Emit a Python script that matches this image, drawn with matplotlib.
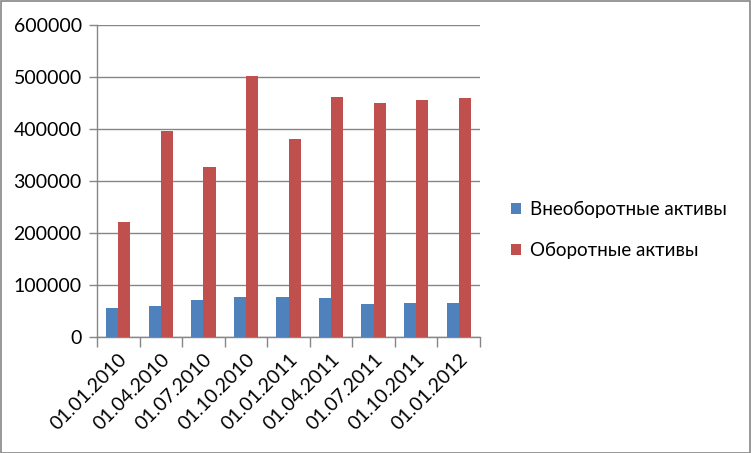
import matplotlib
matplotlib.use("Agg")
import matplotlib.pyplot as plt
from matplotlib.patches import Rectangle
import numpy as np

dates = ["01.01.2010", "01.04.2010", "01.07.2010", "01.10.2010", "01.01.2011",
         "01.04.2011", "01.07.2011", "01.10.2011", "01.01.2012"]
noncurrent = [56400, 60300, 71800, 77600, 77600, 75600, 64100, 66000, 66000]
current = [221800, 396800, 327600, 502600, 381400, 462200, 450600, 456400, 460300]
labels = ["Внеоборотные активы", "Оборотные активы"]

plt.rcParams['font.family'] = ['Lato', 'DejaVu Sans']

W, H = 751, 453
fig = plt.figure(figsize=(W / 100, H / 100), dpi=100)
ax = fig.add_axes([97 / W, 1 - 337 / H, (480 - 97) / W, (337 - 25) / H])

x = np.arange(len(dates))
bw = 1 / 3.5
ax.bar(x - bw / 2, noncurrent, bw, color="#4f81bd", label=labels[0], zorder=3)
ax.bar(x + bw / 2, current, bw, color="#c0504d", label=labels[1], zorder=3)

grid = "#868686"
ax.set_xlim(-0.5, len(dates) - 0.5)
ax.set_ylim(0, 600000)
ax.set_yticks(np.arange(0, 600001, 100000))
ax.yaxis.grid(True, color=grid, linewidth=1, zorder=0)
for s in ["top", "right"]:
    ax.spines[s].set_visible(False)
for s in ["left", "bottom"]:
    ax.spines[s].set_color(grid)
    ax.spines[s].set_linewidth(1)

# category boundaries get the tick marks, labels sit at the centres
ax.set_xticks(np.arange(-0.5, len(dates) + 0.5, 1), minor=False)
ax.set_xticklabels([])
ax.set_xticks(x, minor=True)
ax.set_xticklabels(dates, minor=True, rotation=45, ha="right",
                   rotation_mode="anchor", fontsize=14)
ax.tick_params(axis="x", which="major", length=7, color=grid, width=1)
ax.tick_params(axis="x", which="minor", length=0, pad=10)
ax.tick_params(axis="y", length=6, color=grid, width=1, labelsize=14, pad=5)
ax.set_yticklabels([str(v) for v in range(0, 600001, 100000)])

ax.legend(loc="center left", bbox_to_anchor=(494 / W, 1 - 230 / H),
          bbox_transform=fig.transFigure, frameon=False, fontsize=13.5,
          handlelength=0.55, handleheight=0.55, handletextpad=0.45,
          labelspacing=1.3)

fig.patches.append(Rectangle((0.5 / W, 0.5 / H), 1 - 1.5 / W, 1 - 1.5 / H,
                             transform=fig.transFigure, fill=False,
                             edgecolor="#868686", linewidth=1.2))

fig.savefig("out.png", dpi=100)
